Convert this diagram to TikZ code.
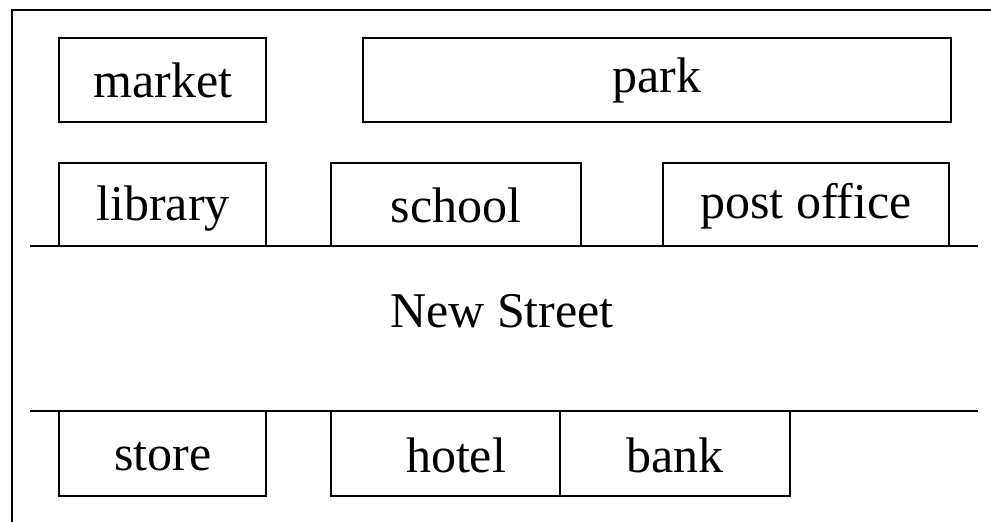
\documentclass[tikz,border=0pt]{standalone}
\usepackage{fontspec}
\setmainfont{Liberation Serif}
\begin{document}
\begin{tikzpicture}[x=1pt,y=-1pt,
  box/.style={draw=black, line width=2.2pt, rectangle, inner sep=0pt, fill=none},
  lbl/.style={anchor=base, inner sep=0pt, font=\fontsize{50}{60}\selectfont},
  rule/.style={line width=2.2pt}]
\useasboundingbox (0,0) rectangle (991,522);
% frame
\draw[line width=1.6pt] (12,522) -- (12,10) -- (991,10);
% boxes
\node[box, minimum width=207pt, minimum height=84pt] (market) at (162.5,80) {};
\node[box, minimum width=588pt, minimum height=84pt] (park) at (657,80) {};
\node[box, minimum width=207pt, minimum height=83pt] (library) at (162.5,204.5) {};
\node[box, minimum width=250pt, minimum height=83pt] (school) at (456,204.5) {};
\node[box, minimum width=286pt, minimum height=83pt] (post) at (806,204.5) {};
\node[box, minimum width=207pt, minimum height=85pt] (store) at (162.5,453.5) {};
\node[box, minimum width=229pt, minimum height=85pt] (hotel) at (445.5,453.5) {};
\node[box, minimum width=230pt, minimum height=85pt] (bank) at (675,453.5) {};
% street
\draw[rule] (30,246) -- (978,246);
\draw[rule] (30,411) -- (978,411);
% labels
\node[lbl] (tmarket) at (163,97) {market};
\node[lbl] (tpark) at (657,92) {park};
\node[lbl] (tlibrary) at (163,220) {library};
\node[lbl] (tschool) at (456,222) {school};
\node[lbl] (tpost) at (806,218) {post office};
\node[lbl] (tstreet) at (502,327) {New Street};
\node[lbl] (tstore) at (163,470) {store};
\node[lbl] (thotel) at (456,472) {hotel};
\node[lbl] (tbank) at (675,472) {bank};
\end{tikzpicture}
\end{document}
